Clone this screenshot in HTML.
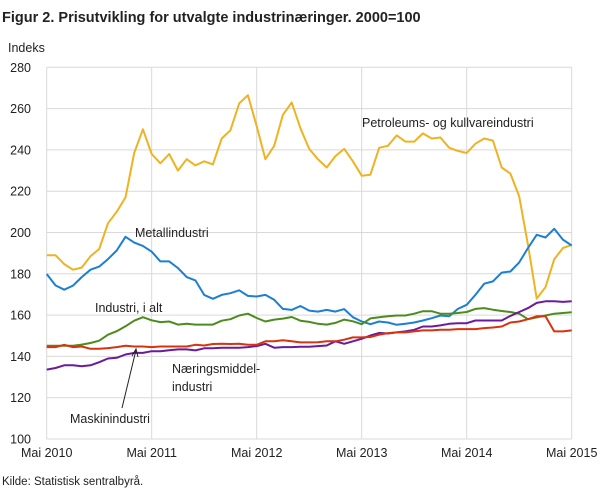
<!DOCTYPE html>
<html><head><meta charset="utf-8"><style>
body{margin:0;background:#fff;font-family:"Liberation Sans",sans-serif;}
svg text{font-family:"Liberation Sans",sans-serif;fill:#222;}
</style></head><body>
<svg id="chart" width="609" height="489" viewBox="0 0 609 489" xmlns="http://www.w3.org/2000/svg">
<text x="2" y="22" font-size="14.5" font-weight="bold">Figur 2. Prisutvikling for utvalgte industrinæringer. 2000=100</text>
<text x="8" y="52" font-size="12.5">Indeks</text>
<g id="grid"></g><g id="series"></g><g id="labels"></g>
<text x="2" y="485" font-size="11.5">Kilde: Statistisk sentralbyrå.</text>
</svg>
<script>
const yTicks=[100,120,140,160,180,200,220,240,260,280];
const xTickLabels=["Mai 2010","Mai 2011","Mai 2012","Mai 2013","Mai 2014","Mai 2015"];
const petroleum=[189,189,184.7,182,183,188.5,192,204.5,210,217,238.5,250,238,233.5,238,230,235.5,232.5,234.5,233,245.5,249.5,262.5,266.5,251.5,235.5,242,257,263,250.5,240.5,235.5,231.5,237,240.5,234.5,227.5,228,241,242,247,244,244,248,245.5,246,241,239.5,238.5,243,245.5,244.5,231.5,228.5,217.5,194,168,173.5,187,192.5,194];
const metall=[179.9,174.4,172.3,174.3,178.4,182,183.5,187.1,191.3,197.9,195.1,193.5,190.7,186,186,182.8,178.4,176.8,169.8,167.9,169.8,170.6,172,169.3,169,169.8,167.4,163,162.5,164.4,162.2,161.7,162.5,161.7,162.9,159,156.9,155.6,156.9,156.4,155.3,155.8,156.4,157.4,158.5,159.8,159.4,163,165,169.8,175.2,176.3,180.6,181.1,185.5,192.5,198.9,197.6,201.8,196.5,193.7];
const industri=[145.2,145.2,145.2,145.2,145.7,146.5,147.6,150.5,152.2,154.6,157.3,159,157.5,156.6,156.9,155.4,155.8,155.4,155.4,155.4,157.3,158,159.8,160.7,158.6,156.9,157.8,158.3,159.1,157.3,156.7,155.8,155.4,156.2,157.8,157,155.6,158.4,159,159.4,159.8,159.8,160.7,161.9,161.9,160.7,160.7,161,161.5,163,163.4,162.6,162,161.5,160.7,158,158.9,159.8,160.7,161,161.4];
const maskin=[144.5,144.5,145.6,144.5,144.8,143.7,143.7,144,144.5,145.2,144.8,144.8,144.5,144.8,144.8,144.8,144.8,145.6,145.3,146,146.1,146,146.1,145.6,145.6,147.3,147.3,147.8,147.3,146.8,146.8,146.9,147.3,147.3,148.1,149.2,149.2,149.4,150.5,151.3,151.6,151.6,152.1,152.6,152.6,152.9,152.9,153.2,153.2,153.2,153.7,154,154.5,156.4,156.9,158,159.4,159.4,152.1,152.1,152.6];
const naering=[133.6,134.4,135.7,135.7,135.2,135.7,137.2,139,139.3,140.9,141.7,141.7,142.5,142.5,143,143.4,143.4,142.9,143.9,143.9,144.2,144.2,144.2,144.5,145,146.1,144.2,144.5,144.5,144.7,144.7,145,145.3,147.3,146.1,147.3,148.5,150.1,151.4,151.1,151.6,152.1,152.9,154.5,154.5,155,155.8,156.1,156.1,157.4,157.4,157.4,157.4,159.6,161.5,163.4,165.9,166.7,166.7,166.4,166.7];
const NS="http://www.w3.org/2000/svg";
const x0=46.7,pxMonth=8.75,yTop=67.3,yBot=439;
const X=i=>x0+i*pxMonth;
const Y=v=>yBot-(v-100)*(yBot-yTop)/180;
function mk(t,a,p){const e=document.createElementNS(NS,t);for(const k in a)e.setAttribute(k,a[k]);p.appendChild(e);return e;}
const grid=document.getElementById('grid');
yTicks.forEach(v=>{
 const l=mk('line',{x1:x0,x2:X(60),y1:Y(v),y2:Y(v),stroke:'#d9d9d9','stroke-width':1},grid);
 
 
 const t=mk('text',{x:31,y:Y(v)+4.5,'font-size':12.5,'text-anchor':'end'},grid);t.textContent=v;
 
 
});
xTickLabels.forEach((s,k)=>{
 const l=mk('line',{x1:X(k*12),x2:X(k*12),y1:yTop,y2:yBot,stroke:'#d9d9d9','stroke-width':1},grid);
 
 
 const t=mk('text',{x:X(k*12),y:457,'font-size':12.5,'text-anchor':'middle'},grid);t.textContent=s;
 
 
});
const sg=document.getElementById('series');
[[petroleum,'#efb321','petroleum-line'],[metall,'#1b7fd3','metall-line'],[industri,'#4b8c1d','industri-line'],[naering,'#6a1b9a','naeringsmiddel-line'],[maskin,'#d6330f','maskin-line']].forEach(([d,c,n])=>{
 const p=mk('polyline',{points:d.map((v,i)=>X(i).toFixed(1)+','+Y(v).toFixed(1)).join(' '),fill:'none',stroke:c,'stroke-width':2,'stroke-linejoin':'round'},sg);
 
 
});
</script>
<svg style="position:absolute;left:0;top:0" width="609" height="489">
<text x="362" y="127" font-size="12.5">Petroleums-  og kullvareindustri</text>
<text x="135" y="237" font-size="12.5">Metallindustri</text>
<text x="95" y="312" font-size="12.5">Industri,  i alt</text>
<text x="172" y="373" font-size="12.5">Næringsmiddel-</text>
<text x="172" y="391" font-size="12.5">industri</text>
<text x="70" y="423" font-size="12.5">Maskinindustri</text>
<line x1="122" y1="408" x2="136" y2="350" stroke="#222" stroke-width="1"/>
<polyline points="132,356 136,349 138,357" fill="none" stroke="#222" stroke-width="1"/>
</svg>
</body></html>
